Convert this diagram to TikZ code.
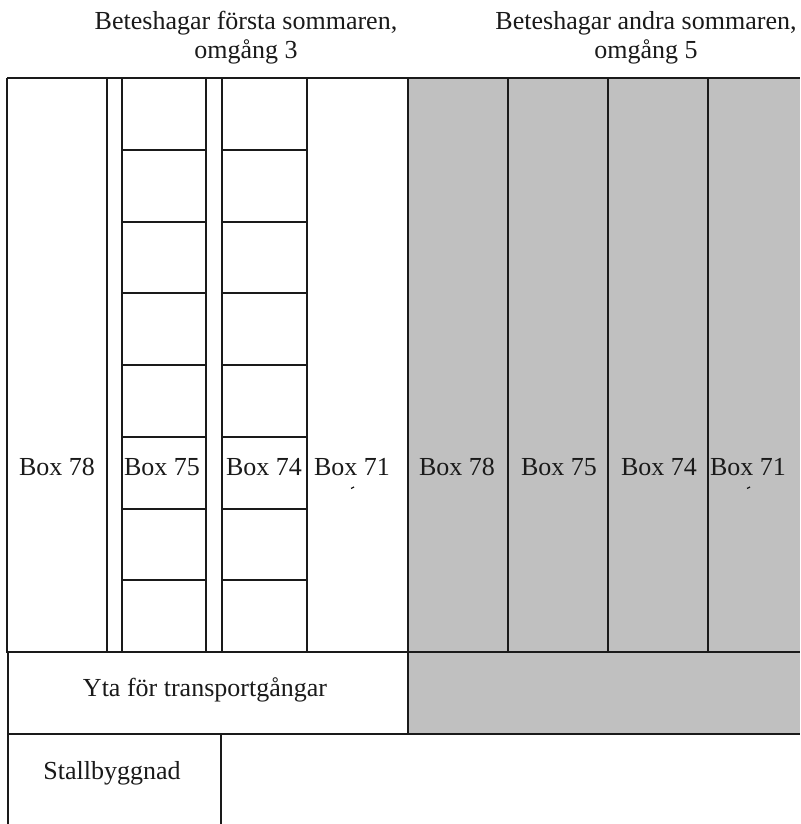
\documentclass[tikz,border=0pt]{standalone}
\usepackage{fontspec}
\setmainfont{Liberation Serif}
\definecolor{pasture}{HTML}{C0C0C0}
\definecolor{inkgray}{HTML}{1A1A1A}
\begin{document}
\begin{tikzpicture}[x=1pt,y=-1pt,
  wall/.style={draw=inkgray,line width=2.4pt},
  thin/.style={draw=inkgray,line width=2pt},
  lbl/.style={font=\fontsize{26}{29}\selectfont,text=inkgray,inner sep=0pt,align=center}]
\useasboundingbox (0,0) rectangle (800,824);
\fill[white] (0,0) rectangle (800,824);

% grazing area, second summer (shaded)
\fill[pasture] (408,78) rectangle (800,734);
\foreach \x in {408,508,608,708} \draw[thin] (\x,78) -- (\x,652);
\draw[wall] (408,652) -- (800,652);
\draw[wall] (408,652) -- (408,734);

% grazing area, first summer
\draw[wall] (7,78) -- (800,78);
\draw[wall] (7,78) -- (7,652) -- (408,652);
\foreach \x in {107,122,206,222,307} \draw[thin] (\x,78) -- (\x,652);
% small paddocks in the two middle strips
\foreach \k in {1,...,7} {
  \draw[thin] (122,78+71.75*\k) -- (206,78+71.75*\k);
  \draw[thin] (222,78+71.75*\k) -- (307,78+71.75*\k);
}

% transport area and barn
\draw[thin] (8,652) -- (8,824);
\draw[wall] (8,734) -- (800,734);
\draw[thin] (221,734) -- (221,824);

% small stray marks below the "Box 71" labels
\draw[inkgray,line width=1.3pt] (351,488.5) -- (354,487);
\draw[inkgray,line width=1.3pt] (747,488.5) -- (750,487);

% labels
\node[lbl] (t1) at (246,38) {Beteshagar första sommaren,\\omgång 3};
\node[lbl] (t2) at (646,38) {Beteshagar andra sommaren,\\omgång 5};
\node[lbl] (a78) at (57,467) {Box 78};
\node[lbl] (a75) at (162,467) {Box 75};
\node[lbl] (a74) at (264,467) {Box 74};
\node[lbl] (a71) at (352,467) {Box 71};
\node[lbl] (b78) at (457,467) {Box 78};
\node[lbl] (b75) at (559,467) {Box 75};
\node[lbl] (b74) at (659,467) {Box 74};
\node[lbl] (b71) at (748,467) {Box 71};
\node[lbl] (yta) at (205,690) {Yta för transportgångar};
\node[lbl] (stall) at (112,773) {Stallbyggnad};
\end{tikzpicture}
\end{document}
